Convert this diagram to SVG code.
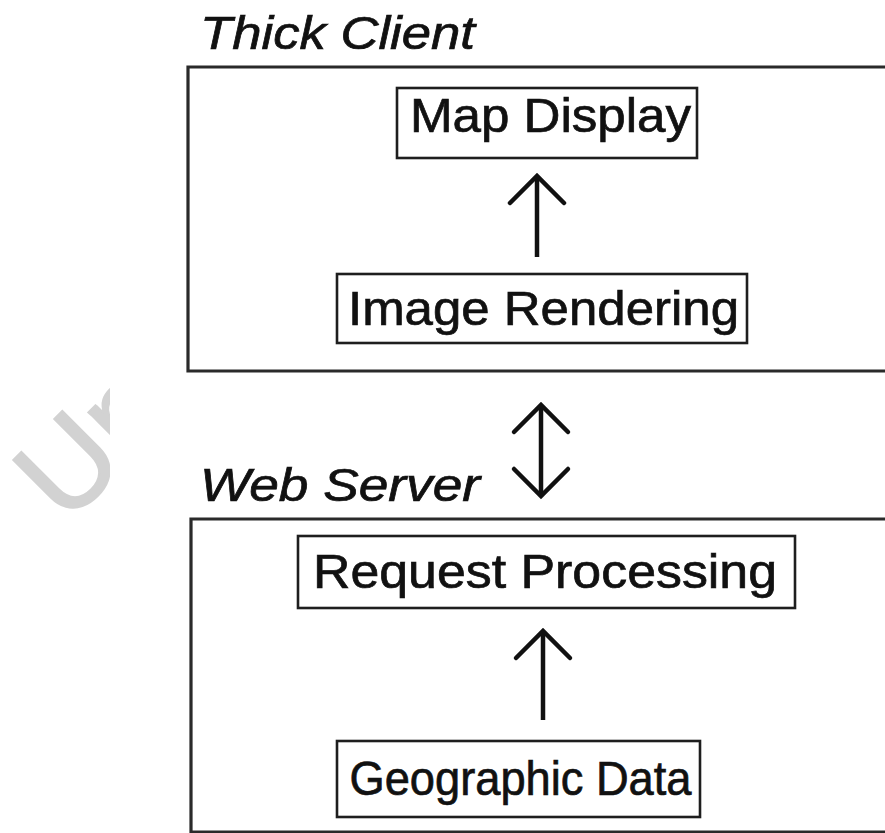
<svg xmlns="http://www.w3.org/2000/svg" width="885" height="833" viewBox="0 0 885 833">
  <style>
    .frame { fill: none; stroke: #2a2a2a; stroke-width: 3.2; }
    .box { fill: #ffffff; stroke: #1e1e1e; stroke-width: 2.6; }
    .label { font-family: "Liberation Sans", Arial, sans-serif; font-size: 48px; fill: #111111; stroke: #111111; stroke-width: 0.7; }
    .title { font-family: "Liberation Sans", Arial, sans-serif; font-size: 46px; font-style: italic; fill: #111111; stroke: #111111; stroke-width: 0.7; }
    .link { fill: none; stroke: #111111; stroke-width: 4.5; }
    .head { fill: none; stroke: #111111; stroke-width: 4.5; stroke-linecap: round; }
    .mark { font-family: "Liberation Sans", Arial, sans-serif; font-size: 122px; fill: #d2d2d2; stroke: #d2d2d2; stroke-width: 2; }
  </style>
  <defs>
    <marker id="open-head" markerUnits="userSpaceOnUse" viewBox="-32 -32 40 64" refX="0" refY="0" markerWidth="40" markerHeight="64" orient="auto-start-reverse" overflow="visible">
      <path class="head" d="M -27 -27 L 0 0 L -27 27"/>
    </marker>
    <clipPath id="mark-clip">
      <rect x="0" y="300" width="110" height="300"/>
    </clipPath>
  </defs>

  <rect x="0" y="0" width="885" height="833" fill="#ffffff"/>

  <!-- faint stamp on the left margin -->
  <g clip-path="url(#mark-clip)">
    <text class="mark" transform="translate(66,526) rotate(-45)">Un</text>
  </g>

  <!-- client tier -->
  <g id="thick-client">
    <text class="title" x="200" y="49" textLength="275" lengthAdjust="spacingAndGlyphs">Thick Client</text>
    <path class="frame" d="M 890 67 L 188 67 L 188 371 L 890 371"/>
  </g>
  <g id="map-display">
    <rect class="box" x="397" y="88" width="300" height="70"/>
    <text class="label" x="410" y="132" textLength="281" lengthAdjust="spacingAndGlyphs">Map Display</text>
  </g>
  <g id="image-rendering">
    <rect class="box" x="337" y="274" width="410" height="69"/>
    <text class="label" x="348" y="325" textLength="391" lengthAdjust="spacingAndGlyphs">Image Rendering</text>
  </g>

  <!-- server tier -->
  <g id="web-server">
    <text class="title" x="200" y="501" textLength="280" lengthAdjust="spacingAndGlyphs">Web Server</text>
    <path class="frame" d="M 890 519 L 191 519 L 191 832 L 890 832"/>
  </g>
  <g id="request-processing">
    <rect class="box" x="298" y="536" width="497" height="72"/>
    <text class="label" x="313" y="588" textLength="464" lengthAdjust="spacingAndGlyphs">Request Processing</text>
  </g>
  <g id="geographic-data">
    <rect class="box" x="337" y="741" width="363" height="76"/>
    <text class="label" x="349.5" y="795" textLength="342" lengthAdjust="spacingAndGlyphs">Geographic Data</text>
  </g>

  <!-- connectors -->
  <g id="connectors">
    <path class="link" d="M 537 257 L 537 176" marker-end="url(#open-head)"/>
    <path class="link" d="M 541 405 L 541 496" marker-start="url(#open-head)" marker-end="url(#open-head)"/>
    <path class="link" d="M 543 720 L 543 631" marker-end="url(#open-head)"/>
  </g>
</svg>
